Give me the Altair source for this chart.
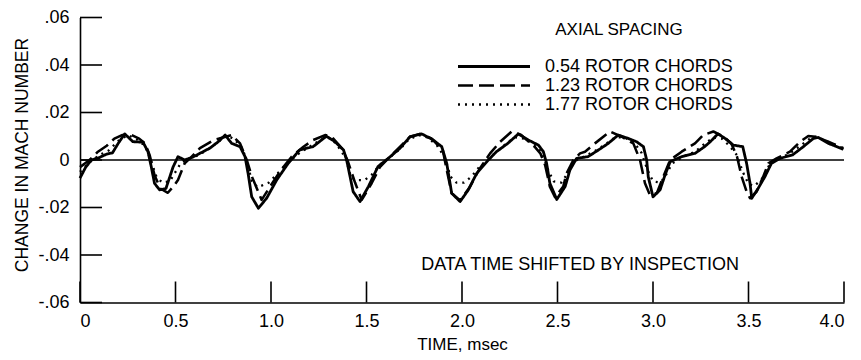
import altair as alt
import pandas as pd

FONT = "Liberation Sans, Arial, sans-serif"

series_names = ["0.54 ROTOR CHORDS", "1.23 ROTOR CHORDS", "1.77 ROTOR CHORDS"]

# 0.54 rotor chords (solid)
t_solid = [0.0, 0.03, 0.06, 0.10, 0.14, 0.17, 0.20, 0.234, 0.277, 0.33, 0.356, 0.373, 0.39, 0.417, 0.45,
           0.487, 0.513, 0.548, 0.59, 0.628, 0.68, 0.724, 0.76, 0.794, 0.838, 0.864, 0.88, 0.899, 0.934,
           0.977, 1.03, 1.09, 1.15, 1.22, 1.29, 1.335, 1.38, 1.396, 1.414, 1.43, 1.466, 1.51, 1.56, 1.614,
           1.675, 1.728, 1.789, 1.85, 1.894, 1.92, 1.946, 1.99, 2.033, 2.077, 2.13, 2.18, 2.24, 2.295,
           2.347, 2.4, 2.426, 2.443, 2.46, 2.496, 2.54, 2.565, 2.6, 2.66, 2.714, 2.766, 2.818, 2.87, 2.914,
           2.95, 2.967, 2.975, 3.0, 3.037, 3.063, 3.09, 3.15, 3.22, 3.27, 3.3, 3.34, 3.377, 3.42, 3.47,
           3.49, 3.508, 3.517, 3.55, 3.586, 3.62, 3.665, 3.73, 3.787, 3.84, 3.865, 3.918, 3.997]
v_solid = [-0.0076, -0.003, 0.0, 0.001, 0.0025, 0.003, 0.007, 0.011, 0.0077, 0.0075, 0.0035, -0.0028,
           -0.0098, -0.0126, -0.012, -0.003, 0.0014, 0.0, 0.0012, 0.0028, 0.005, 0.0077, 0.0105, 0.007,
           0.0056, 0.0014, -0.0056, -0.0155, -0.0203, -0.0161, -0.0084, -0.0014, 0.0042, 0.0056, 0.0100,
           0.0077, 0.0042, 0.0, -0.007, -0.0133, -0.0175, -0.0112, -0.0028, 0.0007, 0.0049, 0.0098, 0.011,
           0.0084, 0.0056, -0.0014, -0.014, -0.0175, -0.0126, -0.0056, -0.0007, 0.0035, 0.007, 0.011,
           0.0084, 0.0063, 0.0035, -0.0014, -0.0098, -0.0166, -0.0112, -0.0042, 0.0007, 0.0014, 0.0042,
           0.007, 0.0105, 0.0091, 0.0077, 0.0056, 0.0, -0.007, -0.0155, -0.0126, -0.0063, -0.0007, 0.0014,
           0.0028, 0.0056, 0.0077, 0.011, 0.0091, 0.0063, 0.0056, -0.0014, -0.0098, -0.0161, -0.012,
           -0.007, -0.0014, 0.0007, 0.0021, 0.0056, 0.0091, 0.0095, 0.007, 0.0045]

# 1.23 rotor chords (dashed)
t_dashed = [0.0, 0.05, 0.094, 0.14, 0.18, 0.22, 0.27, 0.31, 0.34, 0.365, 0.39, 0.42, 0.46, 0.49, 0.513,
            0.548, 0.58, 0.628, 0.7, 0.794, 0.838, 0.873, 0.9, 0.951, 0.995, 1.05, 1.108, 1.17, 1.22,
            1.283, 1.318, 1.37, 1.4, 1.44, 1.475, 1.527, 1.57, 1.623, 1.684, 1.728, 1.78, 1.84, 1.9, 1.92,
            1.946, 1.99, 2.04, 2.09, 2.147, 2.2, 2.26, 2.31, 2.38, 2.41, 2.435, 2.46, 2.487, 2.53, 2.548,
            2.583, 2.618, 2.644, 2.696, 2.775, 2.836, 2.897, 2.932, 2.958, 2.984, 3.02, 3.054, 3.09, 3.15,
            3.22, 3.263, 3.316, 3.37, 3.41, 3.44, 3.464, 3.49, 3.508, 3.543, 3.577, 3.604, 3.647, 3.717,
            3.77, 3.813, 3.85, 3.918, 3.997]
v_dashed = [-0.003, 0.0, 0.0035, 0.006, 0.009, 0.0105, 0.0105, 0.009, 0.007, 0.002, -0.0063, -0.012,
            -0.0138, -0.011, -0.0084, -0.0014, 0.001, 0.005, 0.0084, 0.0105, 0.007, 0.0, -0.007, -0.0168,
            -0.0112, -0.0045, 0.0014, 0.0056, 0.0084, 0.0105, 0.0098, 0.005, 0.0, -0.0095, -0.0168,
            -0.0098, -0.003, 0.0014, 0.0063, 0.0098, 0.011, 0.0091, 0.004, -0.0042, -0.014, -0.017,
            -0.0115, -0.004, 0.0028, 0.0077, 0.012, 0.0105, 0.0056, 0.0028, -0.0021, -0.0112, -0.0157,
            -0.0112, -0.0056, 0.0, 0.0028, 0.0035, 0.007, 0.012, 0.0098, 0.007, 0.0, -0.0098, -0.0147,
            -0.014, -0.007, 0.0, 0.0035, 0.007, 0.0105, 0.012, 0.0098, 0.007, 0.0014, -0.007, -0.0133,
            -0.0161, -0.0133, -0.007, -0.0014, 0.0007, 0.0035, 0.0077, 0.0101, 0.0098, 0.0077, 0.005]

# 1.77 rotor chords (dotted)
t_dotted = [0.0, 0.05, 0.1, 0.15, 0.2, 0.25, 0.3, 0.34, 0.37, 0.4, 0.43, 0.47, 0.5, 0.53, 0.57, 0.62,
            0.68, 0.73, 0.77, 0.81, 0.85, 0.875, 0.9, 0.93, 0.96, 0.99, 1.03, 1.09, 1.15, 1.21, 1.27,
            1.3, 1.34, 1.39, 1.42, 1.45, 1.49, 1.53, 1.57, 1.62, 1.68, 1.72, 1.77, 1.82, 1.87, 1.91, 1.94,
            1.97, 2.01, 2.05, 2.09, 2.14, 2.19, 2.24, 2.28, 2.33, 2.38, 2.42, 2.45, 2.48, 2.52, 2.55, 2.59,
            2.64, 2.7, 2.75, 2.8, 2.85, 2.9, 2.94, 2.97, 3.0, 3.04, 3.07, 3.1, 3.16, 3.22, 3.28, 3.32,
            3.36, 3.4, 3.44, 3.47, 3.5, 3.53, 3.57, 3.61, 3.66, 3.72, 3.78, 3.83, 3.86, 3.92, 3.997]
v_dotted = [-0.005, -0.001, 0.002, 0.004, 0.008, 0.0105, 0.0085, 0.006, 0.0, -0.007, -0.0095, -0.009,
            -0.005, -0.001, 0.0005, 0.002, 0.005, 0.008, 0.0105, 0.0085, 0.005, -0.001, -0.009, -0.0115,
            -0.0105, -0.0095, -0.006, -0.001, 0.003, 0.006, 0.009, 0.0095, 0.007, 0.001, -0.0075, -0.0085,
            -0.0085, -0.006, -0.002, 0.001, 0.005, 0.0085, 0.0105, 0.0095, 0.006, 0.001, -0.007, -0.0095,
            -0.0095, -0.007, -0.003, 0.0005, 0.004, 0.0075, 0.0095, 0.009, 0.0065, 0.003, -0.004, -0.009,
            -0.0095, -0.006, -0.0005, 0.0015, 0.004, 0.0065, 0.0095, 0.0095, 0.0075, 0.003, -0.004, -0.009,
            -0.0095, -0.006, -0.0015, 0.0015, 0.0035, 0.0075, 0.0095, 0.009, 0.006, 0.002, -0.005, -0.01,
            -0.011, -0.008, -0.002, 0.0005, 0.003, 0.0065, 0.0095, 0.0098, 0.0075, 0.0048]

x_ticks = [0.0, 0.5, 1.0, 1.5, 2.0, 2.5, 3.0, 3.5, 4.0]
y_ticks = [-0.06, -0.04, -0.02, 0.0, 0.02, 0.04, 0.06]

legend_heading = ["AXIAL SPACING"]
legend_heading_t = [2.822]
legend_heading_v = [0.0547]

note_text = ["DATA TIME SHIFTED BY INSPECTION"]
note_t = [2.618]
note_v = [-0.0442]

rows = []
for name, ts, vs in zip(series_names, [t_solid, t_dashed, t_dotted], [v_solid, v_dashed, v_dotted]):
    for t, v in zip(ts, vs):
        rows.append({"t": t, "v": v, "series": name})
df = pd.DataFrame(rows)

W, H = 764, 285
xs = alt.Scale(domain=[0, 4], nice=False, zero=False)
ys = alt.Scale(domain=[-0.06, 0.06], nice=False)

lines = alt.Chart(df).mark_line(color="black", strokeCap="butt", strokeJoin="round").encode(
    x=alt.X("t:Q", scale=xs,
            axis=alt.Axis(values=x_ticks, title="TIME,  msec", ticks=False, grid=False,
                          labelExpr="datum.value == 0 ? '0' : format(datum.value, '.1f')",
                          labelPadding=10, titlePadding=6,
                          labelFontSize=18, titleFontSize=17)),
    y=alt.Y("v:Q", scale=ys,
            axis=alt.Axis(values=y_ticks, title="CHANGE IN  MACH NUMBER", ticks=False, grid=False,
                          labelExpr="datum.value == 0 ? '0' : (datum.value < 0 ? '-' : '') + "
                                    "replace(format(abs(datum.value), '.2f'), '0.', '.')",
                          labelPadding=11, titleX=-58, titleY=137, titleBaseline="middle",
                          titleAlign="center", titleAngle=-90,
                          labelFontSize=18, titleFontSize=17.5)),
    strokeDash=alt.StrokeDash(
        "series:N",
        scale=alt.Scale(domain=series_names, range=[[1, 0], [15, 6], [2, 5]]),
        legend=alt.Legend(title=None, orient="none", legendX=405, legendY=40, padding=0,
                          symbolType="M-6,0H6", symbolSize=144, symbolStrokeWidth=2.3,
                          symbolStrokeColor="black", labelOffset=42, rowPadding=1,
                          labelLimit=0, labelFont=FONT, labelFontSize=18, labelColor="black")),
    strokeWidth=alt.StrokeWidth("series:N",
                                scale=alt.Scale(domain=series_names, range=[2.8, 2.3, 2.2]),
                                legend=None),
    order="t:Q",
)

zero = alt.Chart(pd.DataFrame({"z": [0.0]})).mark_rule(color="black", strokeWidth=1.3).encode(
    y=alt.Y("z:Q", scale=ys))

ytick_rules = alt.Chart(pd.DataFrame({"yt": y_ticks})).mark_rule(color="black", strokeWidth=1.6).encode(
    y=alt.Y("yt:Q", scale=ys), x=alt.value(0), x2=alt.value(22))

xtick_rules = alt.Chart(pd.DataFrame({"xt": x_ticks})).mark_rule(color="black", strokeWidth=1.6).encode(
    x=alt.X("xt:Q", scale=xs), y=alt.value(H), y2=alt.value(H - 21))

heading = alt.Chart(pd.DataFrame({"t": legend_heading_t, "v": legend_heading_v, "label": legend_heading})).mark_text(
    font=FONT, fontSize=17, color="black", align="center", baseline="middle").encode(
    x=alt.X("t:Q", scale=xs), y=alt.Y("v:Q", scale=ys), text="label:N")

note = alt.Chart(pd.DataFrame({"t": note_t, "v": note_v, "label": note_text})).mark_text(
    font=FONT, fontSize=18, color="black", align="center", baseline="middle").encode(
    x=alt.X("t:Q", scale=xs), y=alt.Y("v:Q", scale=ys), text="label:N")

chart = alt.layer(zero, ytick_rules, xtick_rules, lines, heading, note).properties(
    width=W, height=H,
    background="white",
    autosize=alt.AutoSizeParams(type="none"),
    padding={"left": 72, "top": 9.5, "right": 9, "bottom": 50},
).configure_view(stroke=None).configure_axis(
    domainColor="black", domainWidth=1.6, labelColor="black", labelFont=FONT,
    titleFont=FONT, titleFontWeight="normal", titleColor="black",
)

chart.save("out.html", embed_options={"renderer": "svg", "actions": False})
